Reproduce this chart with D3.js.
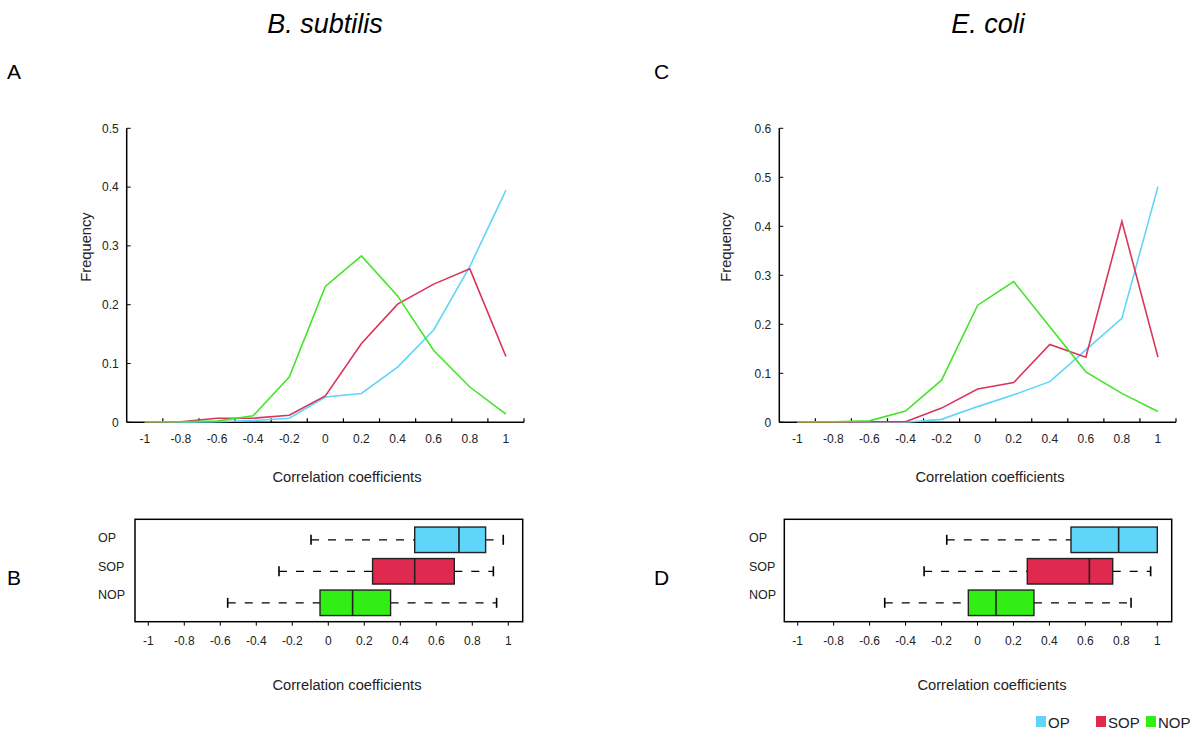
<!DOCTYPE html>
<html><head><meta charset="utf-8">
<script src="https://cdn.jsdelivr.net/npm/d3@7/dist/d3.min.js"></script>
<style>body{margin:0;background:#fff}text{font-family:"Liberation Sans",Arial,sans-serif}</style>
</head><body><svg id="c" width="1200" height="735"></svg>
<script>
const bins = [-1,-0.8,-0.6,-0.4,-0.2,0,0.2,0.4,0.6,0.8,1];
const xTickLabels = [-1,-0.8,-0.6,-0.4,-0.2,0,0.2,0.4,0.6,0.8,1];
const seriesNames = ["OP","SOP","NOP"];
const colors = {OP:"#5fd5f9", SOP:"#e0294f", NOP:"#32ee14"};
const lineColors = {OP:"#5fd5f9", SOP:"#d9345a", NOP:"#44e42a"};

// Panel A: B. subtilis frequencies
const bsOP  = [0,0,0.001,0.003,0.007,0.043,0.049,0.094,0.157,0.265,0.395];
const bsSOP = [0,0.001,0.007,0.007,0.012,0.045,0.134,0.201,0.235,0.261,0.112];
const bsNOP = [0.001,0.001,0.002,0.011,0.077,0.231,0.283,0.215,0.122,0.06,0.014];
const bsYTicks = [0,0.1,0.2,0.3,0.4,0.5];
// Panel C: E. coli frequencies
const ecOP  = [0,0,0,0,0.006,0.032,0.056,0.083,0.148,0.212,0.481];
const ecSOP = [0,0,0.001,0.001,0.029,0.068,0.081,0.159,0.133,0.41,0.133];
const ecNOP = [0.001,0.001,0.003,0.023,0.086,0.239,0.287,0.195,0.103,0.059,0.022];
const ecYTicks = [0,0.1,0.2,0.3,0.4,0.5,0.6];
// Box plot stats [low whisker, q1, median, q3, high whisker]
const bsBoxOP  = [-0.096,0.48,0.726,0.874,0.972];
const bsBoxSOP = [-0.274,0.246,0.48,0.7,0.917];
const bsBoxNOP = [-0.559,-0.046,0.135,0.346,0.935];
const ecBoxOP  = [-0.171,0.52,0.785,1.0,1.0];
const ecBoxSOP = [-0.297,0.277,0.622,0.752,0.963];
const ecBoxNOP = [-0.516,-0.051,0.103,0.314,0.854];

const svg = d3.select("#c");
const fmt = d => String(+d.toFixed(1));

function linePanel(x0, x1, yTop, yBot, yMax, yTicks, data){
  const x = d3.scaleLinear().domain([-1.1,1.1]).range([x0,x1]);
  const y = d3.scaleLinear().domain([0,yMax]).range([yBot,yTop]);
  const g = svg.append("g");
  g.append("line").attr("x1",x0).attr("x2",x0).attr("y1",yTop).attr("y2",yBot).attr("stroke","#000").attr("stroke-width",1.5);
  g.append("line").attr("x1",x0).attr("x2",x1).attr("y1",yBot).attr("y2",yBot).attr("stroke","#000").attr("stroke-width",1.5);
  yTicks.forEach(t=>{
    g.append("line").attr("x1",x0).attr("x2",x0+4).attr("y1",y(t)).attr("y2",y(t)).attr("stroke","#000");
    g.append("text").attr("x",x0-8).attr("y",y(t)+4.3).attr("text-anchor","end").attr("font-size",12).attr("fill","#222").text(fmt(t));
  });
  d3.range(-0.9,1.15,0.2).forEach(t=>{
    g.append("line").attr("x1",x(t)).attr("x2",x(t)).attr("y1",yBot).attr("y2",yBot-4).attr("stroke","#000").attr("stroke-width",1.2);
  });
  xTickLabels.forEach(t=>{
    g.append("text").attr("x",x(t)).attr("y",yBot+21).attr("text-anchor","middle").attr("font-size",12).attr("fill","#222").text(fmt(t));
  });
  const line = d3.line().x((d,i)=>x(bins[i])).y(d=>y(d));
  seriesNames.forEach((s,k)=>{
    g.append("path").attr("d",line(data[k])).attr("fill","none").attr("stroke",lineColors[s]).attr("stroke-width",1.6);
  });
  return x;
}

function boxPanel(fx0, fx1, fy0, fy1, sx0, sx1, labelX, stats){
  const x = d3.scaleLinear().domain([-1,1]).range([sx0,sx1]);
  const g = svg.append("g");
  g.append("rect").attr("x",fx0).attr("y",fy0).attr("width",fx1-fx0).attr("height",fy1-fy0).attr("fill","none").attr("stroke","#000").attr("stroke-width",1.5);
  xTickLabels.forEach(t=>{
    g.append("line").attr("x1",x(t)).attr("x2",x(t)).attr("y1",fy1).attr("y2",fy1+4).attr("stroke","#000");
    g.append("text").attr("x",x(t)).attr("y",fy1+23).attr("text-anchor","middle").attr("font-size",12).attr("fill","#222").text(fmt(t));
  });
  const yc = d3.scalePoint().domain(seriesNames).range([fy0+20.5,fy0+83.5]);
  const yl = d3.scalePoint().domain(seriesNames).range([fy0+22.7,fy0+79.7]);
  const bh = 25.5;
  seriesNames.forEach((s,k)=>{
    const [lo,q1,md,q3,hi] = stats[k];
    const cy = yc(s);
    g.append("text").attr("x",labelX).attr("y",yl(s)).attr("font-size",12.5).attr("fill","#222").text(s);
    g.append("line").attr("x1",x(lo)).attr("x2",x(q1)).attr("y1",cy).attr("y2",cy).attr("stroke","#000").attr("stroke-width",1.3).attr("stroke-dasharray","8,9");
    if(hi>q3) g.append("line").attr("x1",x(q3)).attr("x2",x(hi)).attr("y1",cy).attr("y2",cy).attr("stroke","#000").attr("stroke-width",1.3).attr("stroke-dasharray","8,9");
    g.append("line").attr("x1",x(lo)).attr("x2",x(lo)).attr("y1",cy-5).attr("y2",cy+5).attr("stroke","#000").attr("stroke-width",1.6);
    if(hi>q3) g.append("line").attr("x1",x(hi)).attr("x2",x(hi)).attr("y1",cy-5).attr("y2",cy+5).attr("stroke","#000").attr("stroke-width",1.6);
    g.append("rect").attr("x",x(q1)).attr("y",cy-bh/2).attr("width",x(q3)-x(q1)).attr("height",bh).attr("fill",colors[s]).attr("stroke","#222").attr("stroke-width",1.4);
    g.append("line").attr("x1",x(md)).attr("x2",x(md)).attr("y1",cy-bh/2).attr("y2",cy+bh/2).attr("stroke","#222").attr("stroke-width",1.6);
  });
}

linePanel(126.7, 524, 128.3, 422.3, 0.5, bsYTicks, [bsOP,bsSOP,bsNOP]);
linePanel(779.3, 1176, 128.3, 422.3, 0.6, ecYTicks, [ecOP,ecSOP,ecNOP]);
boxPanel(135, 522.7, 519.3, 621.7, 148.3, 508.3, 98, [bsBoxOP,bsBoxSOP,bsBoxNOP]);
boxPanel(784.3, 1171.7, 519.3, 621.7, 797.7, 1157.3, 749, [ecBoxOP,ecBoxSOP,ecBoxNOP]);

svg.append("text").attr("x",325).attr("y",33).attr("text-anchor","middle").attr("font-size",27).attr("font-style","italic").text("B. subtilis");
svg.append("text").attr("x",988).attr("y",33).attr("text-anchor","middle").attr("font-size",27).attr("font-style","italic").text("E. coli");
[["A",7,79],["B",7,585],["C",654,79],["D",654,585]].forEach(([t,x,y])=>{
  svg.append("text").attr("x",x).attr("y",y).attr("font-size",21).text(t);
});
[[347,482],[990,482],[347,690],[992,690]].forEach(([x,y])=>{
  svg.append("text").attr("x",x).attr("y",y).attr("text-anchor","middle").attr("font-size",14.7).attr("fill","#222").text("Correlation coefficients");
});
[[91,247],[731,247]].forEach(([x,y])=>{
  svg.append("text").attr("transform",`translate(${x},${y}) rotate(-90)`).attr("text-anchor","middle").attr("font-size",14.7).attr("fill","#222").text("Frequency");
});
const leg = [["OP",1036],["SOP",1096],["NOP",1146]];
leg.forEach(([s,x])=>{
  svg.append("rect").attr("x",x).attr("y",716).attr("width",10).attr("height",11).attr("fill",colors[s]);
  svg.append("text").attr("x",x+12).attr("y",727.5).attr("font-size",15).attr("fill","#222").text(s);
});
</script></body></html>
